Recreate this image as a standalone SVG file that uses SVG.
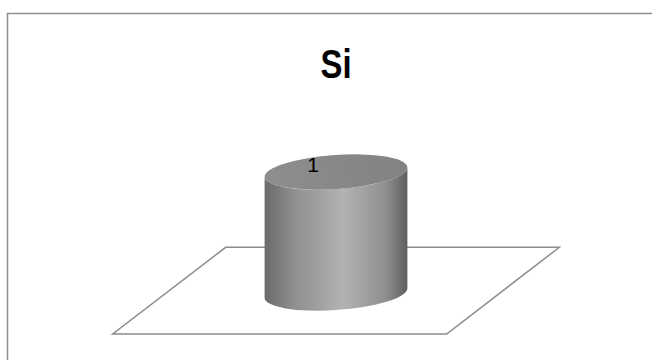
<svg xmlns="http://www.w3.org/2000/svg" width="652" height="360" viewBox="0 0 652 360">
<style>
.frame{fill:#ffffff;stroke:#8e8e8e;stroke-width:1.5}
.floor{fill:#ffffff;stroke:#8c8c8c;stroke-width:1.5;stroke-linejoin:miter}
.title{font-family:"Liberation Sans",Arial,sans-serif;font-weight:bold;font-size:40px;fill:#000}
.lbl{font-family:"Liberation Sans",Arial,sans-serif;font-size:21px;fill:#000}
</style>
<defs>
<linearGradient id="side" x1="264.6" y1="0" x2="407.4" y2="0" gradientUnits="userSpaceOnUse">
<stop offset="0" stop-color="#6a6a6a"/>
<stop offset="0.2" stop-color="#8e8e8e"/>
<stop offset="0.55" stop-color="#b3b3b3"/>
<stop offset="0.85" stop-color="#8f8f8f"/>
<stop offset="1" stop-color="#5e5e5e"/>
</linearGradient>
<linearGradient id="top" x1="264.6" y1="0" x2="407.4" y2="0" gradientUnits="userSpaceOnUse">
<stop offset="0" stop-color="#8e8e8e"/>
<stop offset="1" stop-color="#828282"/>
</linearGradient>
</defs>
<rect width="652" height="360" fill="#ffffff"/>
<rect class="frame" x="7.5" y="13.5" width="700" height="400"/>
<text class="title" x="336" y="78" text-anchor="middle" textLength="31" lengthAdjust="spacingAndGlyphs">Si</text>
<g id="floor">
<polygon class="floor" points="225.7,247.3 559.3,247.3 446.7,334 112.7,334"/>
</g>
<g id="cylinder">
<path fill="url(#side)" d="M264.6 176.7 L264.6 297.7 A71.5 17 -4 0 0 407.4 288.3 L407.4 167.3 A71.5 17 -4 0 1 264.6 176.7 Z"/>
<ellipse cx="336" cy="172" rx="71.5" ry="17" transform="rotate(-4 336 172)" fill="url(#top)"/>
<text class="lbl" x="313" y="172" text-anchor="middle">1</text>
</g>
</svg>
